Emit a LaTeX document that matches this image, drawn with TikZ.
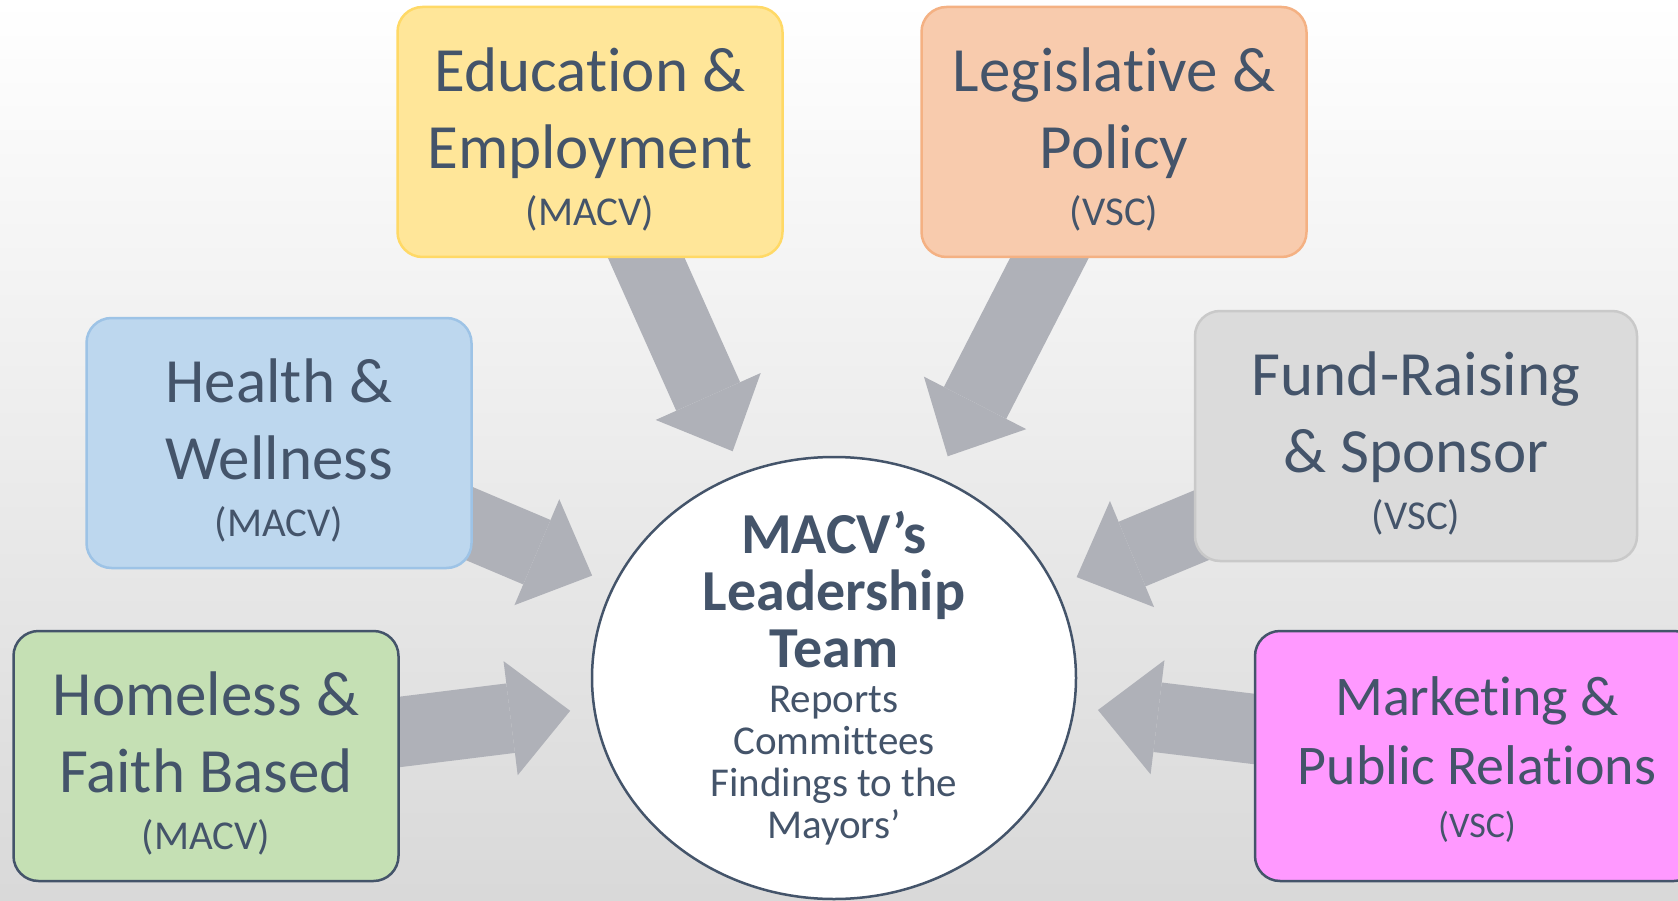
\documentclass[tikz,border=0pt]{standalone}
\usepackage{fontspec}
\setmainfont{Carlito}[Ligatures={NoCommon}]
\usepackage{xcolor}
\usepackage{tikz}
\usetikzlibrary{shapes,arrows.meta,positioning,calc}

\definecolor{slate}{RGB}{68,84,106}
\definecolor{arrowgrey}{RGB}{175,177,184}
\definecolor{eduyellow}{RGB}{255,230,153}
\definecolor{eduline}{RGB}{255,217,102}
\definecolor{legpeach}{RGB}{248,203,173}
\definecolor{legline}{RGB}{244,177,131}
\definecolor{hwblue}{RGB}{189,215,238}
\definecolor{hwline}{RGB}{157,195,230}
\definecolor{fundgrey}{RGB}{219,219,219}
\definecolor{fundline}{RGB}{201,201,201}
\definecolor{homegreen}{RGB}{197,224,180}
\definecolor{mktpink}{RGB}{255,153,255}

\pgfdeclarelayer{back}
\pgfdeclarelayer{links}
\pgfsetlayers{back,links,main}

\tikzset{
    committee/.style={draw, rounded corners=25pt, line width=2.5pt, minimum width=385pt, minimum height=250pt, inner sep=0pt, align=center, text=slate, font=\fontsize{63}{77}\selectfont},
    bigarrow/.style={arrowgrey, line width=70pt, shorten >=23pt, -{Triangle[length=60pt,width=115pt,line width=0pt]}},
}
\newcommand{\topgap}[1][58pt]{\rule{0pt}{#1}}
\newcommand{\orgtag}[1]{{\fontsize{41}{50}\selectfont(#1)}}

\begin{document}
\begin{tikzpicture}[x=1pt,y=-1pt]
    \begin{pgfonlayer}{back}
        \shade[top color=white, middle color=black!5, bottom color=black!15] (0,0) rectangle (1678,901);
    \end{pgfonlayer}
    \useasboundingbox (0,0) rectangle (1678,901);

    \node[committee, fill=eduyellow, draw=eduline] (edu) at (590,132) {\topgap Education \&\\Employment\\[-20pt]\orgtag{MACV}};
    \node[committee, fill=legpeach, draw=legline] (leg) at (1114,132) {\topgap Legislative \&\\Policy\\[-20pt]\orgtag{VSC}};
    \node[committee, fill=hwblue, draw=hwline] (hw) at (279,443) {\topgap Health \&\\Wellness\\[-20pt]\orgtag{MACV}};
    \node[committee, fill=fundgrey, draw=fundline, minimum width=442pt] (fund) at (1416,436) {\topgap Fund-Raising\\\& Sponsor\\[-20pt]\orgtag{VSC}};
    \node[committee, fill=homegreen, draw=slate] (home) at (206,756) {\topgap Homeless \&\\Faith Based\\[-20pt]\orgtag{MACV}};
    \node[committee, fill=mktpink, draw=slate, minimum width=444pt, font=\fontsize{56}{69}\selectfont] (mkt) at (1477,756) {\topgap[46pt]Marketing \&\\Public Relations\\[-16pt]{\fontsize{36}{45}\selectfont(VSC)}};

    \node[ellipse, draw=slate, line width=2.5pt, fill=white, minimum width=484pt, minimum height=442pt, inner sep=-30pt, align=center, text=slate, font=\fontsize{58}{57}\selectfont\bfseries] (lead) at (834,678)
        {MACV’s\\Leadership\\Team\\[-12pt]{\fontsize{41}{42}\selectfont\mdseries Reports}\\[-15pt]{\fontsize{41}{42}\selectfont\mdseries Committees}\\[-15pt]{\fontsize{41}{42}\selectfont\mdseries Findings to the}\\[-15pt]{\fontsize{41}{42}\selectfont\mdseries Mayors’}};

    \begin{pgfonlayer}{links}
        \foreach \src in {edu,leg,hw,fund,home,mkt}
            \draw[bigarrow] (\src.center) -- (lead);
    \end{pgfonlayer}
\end{tikzpicture}
\end{document}
